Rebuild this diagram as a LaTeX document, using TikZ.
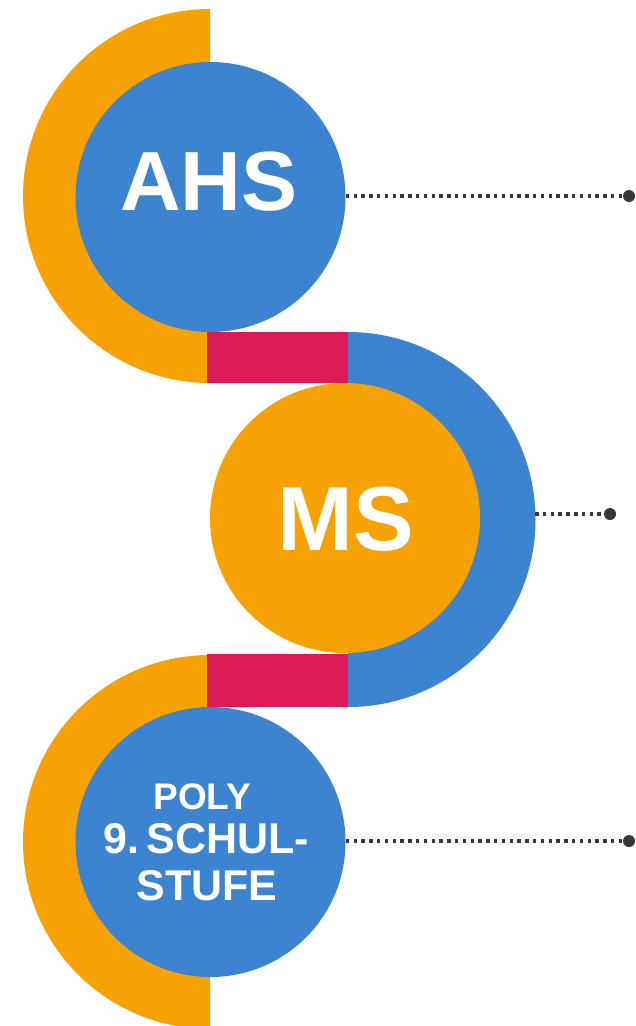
\documentclass[tikz,border=0pt]{standalone}
\usepackage{fontspec}
\setmainfont{Liberation Sans}
\definecolor{cOrange}{HTML}{F6A205}
\definecolor{cBlue}{HTML}{3C84CF}
\definecolor{cRed}{HTML}{DC1A55}
\definecolor{cDot}{HTML}{383838}
\begin{document}
\begin{tikzpicture}[x=1pt,y=-1pt,
  bigcircle/.style={circle,inner sep=0pt,minimum size=270pt},
  label/.style={text=white,anchor=base,inner sep=0pt},
  leader/.style={cDot,line width=3.2pt,dash pattern=on 3.5pt off 4.3pt},
  enddot/.style={circle,fill=cDot,inner sep=0pt,minimum size=12pt}]
\useasboundingbox (0,0) rectangle (636,1026);
\fill[white] (0,0) rectangle (636,1026);
\begin{scope}
\clip (0,0) rectangle (636,1026);
% half rings
\fill[cOrange] (210,9) arc[start angle=-90,end angle=-270,radius=187] -- cycle;
\fill[cOrange] (210,655) arc[start angle=-90,end angle=-270,radius=187] -- cycle;
\fill[cBlue] (348,332) arc[start angle=-90,end angle=90,radius=187.5] -- cycle;
\end{scope}
% connectors
\fill[cRed] (207,332) rectangle (348,383);
\fill[cRed] (207,654) rectangle (348,707);
% circles
\node[bigcircle,fill=cBlue] (ahs) at (210.5,197) {};
\node[bigcircle,fill=cOrange] (ms) at (345,518) {};
\node[bigcircle,fill=cBlue] (poly) at (210.5,842) {};
% texts
\node[label,font=\bfseries\fontsize{84}{84}\selectfont] (ahst) at (209,210) {AHS};
\node[label,font=\bfseries\fontsize{91}{91}\selectfont] (mst) at (345.5,550) {MS};
\node[label,font=\bfseries\fontsize{37}{37}\selectfont] (polyt1) at (202,809) {POLY};
\node[label,font=\bfseries\fontsize{43}{43}\selectfont] (polyt2) at (206,853) {9.\hspace{0.17em}SCHUL-};
\node[label,font=\bfseries\fontsize{43}{43}\selectfont] (polyt3) at (207,900) {STUFE};
% leaders
\coordinate (msring) at (535,514);
\node[enddot] (d1) at (629,196) {};
\node[enddot] (d2) at (610,514) {};
\node[enddot] (d3) at (629,841) {};
\draw[leader] (ahs.east |- d1) -- (d1);
\draw[leader] (msring) -- (d2);
\draw[leader] (poly.east |- d3) -- (d3);
\end{tikzpicture}
\end{document}
